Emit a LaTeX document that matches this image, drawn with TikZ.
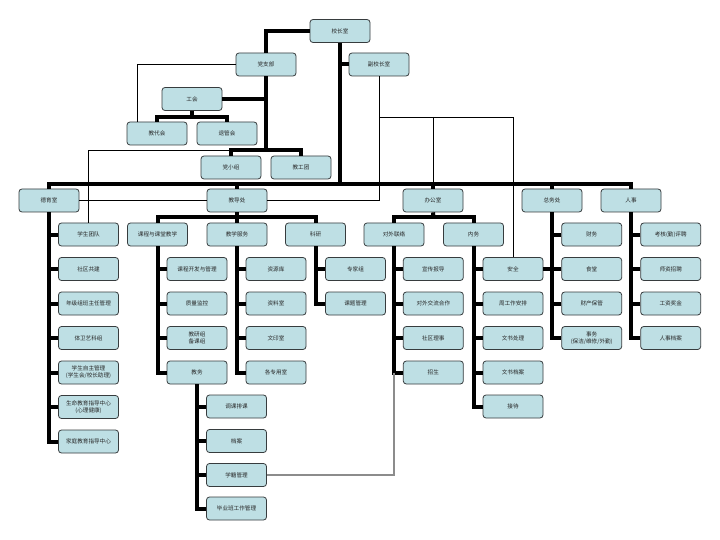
\documentclass[tikz,border=0pt]{standalone}
\usepackage{fontspec}
\newfontfamily\cjk{Noto Sans CJK SC}
\usetikzlibrary{calc}
\definecolor{boxfill}{RGB}{190,223,228}
\definecolor{boxline}{RGB}{55,60,62}
\definecolor{wiregray}{RGB}{140,140,140}
\begin{document}
\begin{tikzpicture}[x=1pt,y=-1pt,
  box/.style={draw=boxline,fill=boxfill,line width=0.8pt,rounded corners=3pt,
    minimum width=60pt,minimum height=23pt,inner sep=0pt,align=center,
    font=\cjk\fontsize{5.6}{6.8}\selectfont,text=black!85},
  bar/.style={line width=4pt,black},
  wire/.style={line width=0.9pt,black},
  grayline/.style={line width=1.1pt,wiregray}]
\fill[white] (0,0) rectangle (720,540);
\useasboundingbox (0,0) rectangle (720,540);
% top
\node[box] (xz) at (340,31) {校长室};
\node[box] (dzb) at (266,64.5) {党支部};
\node[box] (fxz) at (379,64.5) {副校长室};
\node[box] (gh) at (192,99) {工会};
\node[box] (jdh) at (157,133.5) {教代会};
\node[box] (tgh) at (227,133.5) {退管会};
\node[box] (dxz) at (231,167.5) {党小组};
\node[box] (jgt) at (301,167.5) {教工团};
% level 1
\node[box] (dy) at (49,200.5) {德育室};
\node[box] (jd) at (237,200.5) {教导处};
\node[box] (bg) at (433,200.5) {办公室};
\node[box] (zw) at (552,200.5) {总务处};
\node[box] (rs) at (631,200.5) {人事};
% deyu
\node[box] (d1) at (88.5,234.5) {学生团队};
\node[box] (d2) at (88.5,269) {社区共建};
\node[box] (d3) at (88.5,303.5) {年级组班主任管理};
\node[box] (d4) at (88.5,338) {体卫艺科组};
\node[box] (d5) at (88.5,372.5) {学生自主管理\\(学生会/校长助理)};
\node[box] (d6) at (88.5,407) {生命教育指导中心\\(心理健康)};
\node[box] (d7) at (88.5,441.5) {家庭教育指导中心};
% level 2
\node[box] (kc) at (157.5,234.5) {课程与课堂教学};
\node[box] (jf) at (237,234.5) {教学服务};
\node[box] (ky) at (315.5,234.5) {科研};
\node[box] (dwl) at (394,234.5) {对外联络};
\node[box] (nw) at (473.5,234.5) {内务};
% kecheng
\node[box] (k1) at (197,269) {课程开发与管理};
\node[box] (k2) at (197,303.5) {质量监控};
\node[box] (k3) at (197,338) {教研组\\备课组};
\node[box] (k4) at (197,372.5) {教务};
\node[box] (w1) at (236.5,406.5) {调课排课};
\node[box] (w2) at (236.5,441) {档案};
\node[box] (w3) at (236.5,475) {学籍管理};
\node[box] (w4) at (236.5,508.5) {毕业班工作管理};
% jiaoxue fuwu
\node[box] (f1) at (276,269) {资源库};
\node[box] (f2) at (276,303.5) {资料室};
\node[box] (f3) at (276,338) {文印室};
\node[box] (f4) at (276,372.5) {各专用室};
% keyan
\node[box] (y1) at (355.5,269) {专家组};
\node[box] (y2) at (355.5,303.5) {课题管理};
% duiwai
\node[box] (o1) at (433.3,269) {宣传报导};
\node[box] (o2) at (433.3,303.5) {对外交流合作};
\node[box] (o3) at (433.3,338) {社区理事};
\node[box] (o4) at (433.3,372.5) {招生};
% neiwu
\node[box] (n1) at (513,269) {安全};
\node[box] (n2) at (513,303.5) {周工作安排};
\node[box] (n3) at (513,338) {文书处理};
\node[box] (n4) at (513,372.5) {文书档案};
\node[box] (n5) at (513,406.5) {接待};
% zongwu
\node[box] (z1) at (591.7,234.5) {财务};
\node[box] (z2) at (591.7,269) {食堂};
\node[box] (z3) at (591.7,303.5) {财产保管};
\node[box] (z4) at (591.7,338) {事务\\(保洁/维修/外勤)};
% renshi
\node[box] (r1) at (670.7,234.5) {考核(勤)评聘};
\node[box] (r2) at (670.7,269) {师资招聘};
\node[box] (r3) at (670.7,303.5) {工资奖金};
\node[box] (r4) at (670.7,338) {人事档案};
% junction coordinates
\coordinate (bus) at (340,184);
\coordinate (dzbb) at (266,150);
\coordinate (ghb) at (192,117);
\coordinate (jdb) at (237,217.3);
\coordinate (bgb) at (433.5,217.3);
\coordinate (vk) at (379,117);
% thick connectors
\draw[bar] (xz.west) -| (dzb.north);
\draw[bar] (xz.south) -- (bus);
\draw[bar] (xz.south |- fxz.west) -- (fxz.west);
\draw[bar] (dzb.south) -- (dzbb);
\draw[bar] (gh.east) -- (gh.east -| dzb.south);
\draw[bar] (dxz.north) |- (dzbb) -| (jgt.north);
\draw[bar] (gh.south) -- (ghb);
\draw[bar] (jdh.north) |- (ghb) -| (tgh.north);
\draw[bar] (dy.north) |- (bus) -| (rs.north);
\foreach \p in {jd,bg,zw} \draw[bar] (\p.north) -- (\p.north |- bus);
\foreach \c in {d1,d2,d3,d4,d5,d6} \draw[bar] (\c.west) -- (\c.west -| dy.south);
\draw[bar] (dy.south) |- (d7.west);
\draw[bar] (jd.south) -- (jdb);
\draw[bar] (kc.north) |- (jdb) -| (ky.north);
\draw[bar] (jf.north) -- (jf.north |- jdb);
\draw[bar] (bg.south) -- (bgb);
\draw[bar] (dwl.north) |- (bgb) -| (nw.north);
\foreach \c in {k1,k2,k3} \draw[bar] (\c.west) -- (\c.west -| kc.south);
\draw[bar] (kc.south) |- (k4.west);
\foreach \c in {w1,w2,w3} \draw[bar] (\c.west) -- (\c.west -| k4.south);
\draw[bar] (k4.south) |- (w4.west);
\foreach \c in {f1,f2,f3} \draw[bar] (\c.west) -- (\c.west -| jf.south);
\draw[bar] (jf.south) |- (f4.west);
\draw[bar] (y1.west) -- (y1.west -| ky.south);
\draw[bar] (ky.south) |- (y2.west);
\foreach \c in {o1,o2,o3} \draw[bar] (\c.west) -- (\c.west -| dwl.south);
\draw[bar] (dwl.south) |- (o4.west);
\foreach \c in {n1,n2,n3,n4} \draw[bar] (\c.west) -- (\c.west -| nw.south);
\draw[bar] (nw.south) |- (n5.west);
\foreach \c in {z1,z2,z3} \draw[bar] (\c.west) -- (\c.west -| zw.south);
\draw[bar] (zw.south) |- (z4.west);
\draw[bar] (n1.east) -- (z2.west);
\foreach \c in {r1,r2,r3} \draw[bar] (\c.west) -- (\c.west -| rs.south);
\draw[bar] (rs.south) |- (r4.west);
% thin connectors
\draw[wire] (dzb.west) -| ([xshift=11pt]jdh.north west);
\draw[wire] (dxz.north |- dzbb) -| (d1.north);
\draw[wire] (dy.east) -- (jd.west);
\draw[wire] (fxz.south) |- (jd.east);
\draw[wire] (vk) -| (n1.north);
\draw[wire] (bg.north |- vk) -- (bg.north |- bus);
\draw[grayline] (o4.west -| dwl.south) |- (w3.east);
\end{tikzpicture}
\end{document}
